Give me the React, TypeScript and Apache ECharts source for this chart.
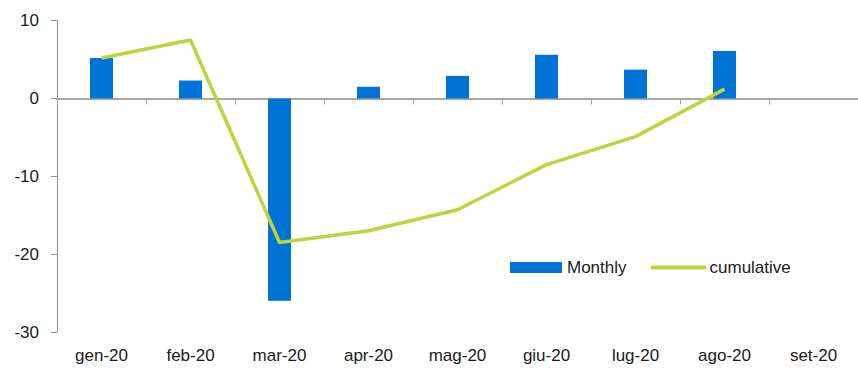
import React, { useEffect, useRef } from "react";
import * as echarts from "echarts";

// Months of 2020 (Italian short labels)
const months = ["gen-20", "feb-20", "mar-20", "apr-20", "mag-20", "giu-20", "lug-20", "ago-20", "set-20"];
// Monthly change
const monthly: (number | null)[] = [5.2, 2.3, -26.0, 1.5, 2.9, 5.6, 3.7, 6.1, null];
// Cumulative change
const cumulative: (number | null)[] = [5.2, 7.5, -18.5, -17.0, -14.3, -8.5, -4.9, 1.2, null];

const FONT = "'Liberation Sans', Arial, sans-serif";
const TEXT = "#1a1a1a";
const BAR = "#0074D6";
const LINE = "#BDD43E";

export default function App() {
  const ref = useRef<HTMLDivElement>(null);

  useEffect(() => {
    if (!ref.current) return;
    const chart = echarts.init(ref.current, undefined, { renderer: "svg" });
    chart.setOption({
      animation: false,
      backgroundColor: "#ffffff",
      textStyle: { fontFamily: FONT, color: TEXT },
      grid: { left: 57, top: 20.6, width: 805, bottom: 37, containLabel: false },
      legend: {
        left: 510,
        top: 259,
        padding: 0,
        itemWidth: 52,
        itemHeight: 11,
        itemGap: 24,
        textStyle: { fontFamily: FONT, fontSize: 17, color: TEXT },
        data: [
          { name: "Monthly", icon: "rect" },
          {
            name: "cumulative",
            itemStyle: { opacity: 0 },
            lineStyle: { width: 4, color: LINE, cap: "round" },
          },
        ],
      },
      xAxis: [
        {
          // axis line through zero with boundary ticks
          type: "category",
          data: months,
          axisLine: { show: true, onZero: true, lineStyle: { color: "#A8A8A8", width: 2 } },
          axisTick: { show: true, length: 6, lineStyle: { color: "#A0A0A0", width: 1 } },
          axisLabel: { show: false },
          splitLine: { show: false },
        },
        {
          // month labels along the bottom
          type: "category",
          data: months,
          position: "bottom",
          axisLine: { show: false, onZero: false },
          axisTick: { show: false },
          axisLabel: { show: true, margin: 15, fontSize: 17, fontFamily: FONT, color: TEXT },
          splitLine: { show: false },
        },
      ],
      yAxis: {
        type: "value",
        min: -30,
        max: 10,
        interval: 10,
        axisLine: { show: true, lineStyle: { color: "#8C8C8C", width: 1 } },
        axisTick: { show: true, length: 6, lineStyle: { color: "#8C8C8C" } },
        axisLabel: { margin: 18, fontSize: 17, fontFamily: FONT, color: TEXT },
        splitLine: { show: false },
      },
      series: [
        {
          name: "Monthly",
          type: "bar",
          xAxisIndex: 0,
          data: monthly,
          barWidth: 23,
          itemStyle: { color: BAR },
        },
        {
          name: "cumulative",
          type: "line",
          xAxisIndex: 0,
          data: cumulative,
          symbol: "none",
          showSymbol: false,
          lineStyle: { color: LINE, width: 3.5 },
          itemStyle: { color: LINE },
          z: 3,
        },
      ],
    });
    return () => chart.dispose();
  }, []);

  return (
    <div
      ref={ref}
      style={{ position: "fixed", left: 0, top: 0, width: 858, height: 369, background: "#fff" }}
    />
  );
}
